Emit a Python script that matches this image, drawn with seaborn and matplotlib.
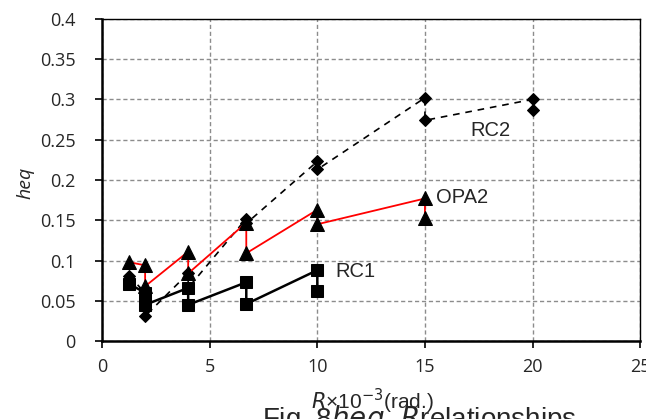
import matplotlib
matplotlib.use("Agg")
import matplotlib.pyplot as plt
import seaborn as sns
import pandas as pd
from matplotlib.ticker import MultipleLocator, FuncFormatter

# drift angle R (x10^-3 rad), each cycle gives two points
rc1_x = [1.25, 2, 2, 4, 4, 6.7, 6.7, 10, 10]
rc1_y = [0.071, 0.060, 0.045, 0.066, 0.045, 0.073, 0.046, 0.088, 0.062]

opa2_x = [1.25, 2, 2, 4, 4, 6.7, 6.7, 10, 10, 15, 15]
opa2_y = [0.098, 0.094, 0.068, 0.111, 0.084, 0.147, 0.109, 0.163, 0.145, 0.177, 0.153]

rc2_x = [1.25, 2, 2, 4, 4, 6.7, 6.7, 10, 10, 15, 15, 20, 20]
rc2_y = [0.081, 0.060, 0.031, 0.084, 0.066, 0.152, 0.146, 0.223, 0.213, 0.302, 0.274, 0.300, 0.287]

labels = ["RC1", "OPA2", "RC2"]
label_pos = [(10.85, 0.086), (15.5, 0.178), (17.1, 0.262)]

sns.set_theme(style="white")
plt.rcParams['font.family'] = ['Liberation Sans', 'DejaVu Sans']

fig = plt.figure(figsize=(6.46, 4.19), dpi=100)
ax = fig.add_axes([0.158, 0.186, 0.833, 0.769])

rc2 = pd.DataFrame({"R": rc2_x, "heq": rc2_y})
opa2 = pd.DataFrame({"R": opa2_x, "heq": opa2_y})
rc1 = pd.DataFrame({"R": rc1_x, "heq": rc1_y})

sns.lineplot(data=rc2, x="R", y="heq", sort=False, estimator=None, ax=ax,
             color="black", lw=1.2, linestyle=(0, (4, 3.5)), marker="D",
             markersize=6.5, markeredgecolor="black", markerfacecolor="black", zorder=3)
sns.lineplot(data=opa2, x="R", y="heq", sort=False, estimator=None, ax=ax,
             color="#ff0000", lw=1.3, marker="^", markersize=10,
             markeredgecolor="black", markerfacecolor="black", zorder=4)
sns.lineplot(data=rc1, x="R", y="heq", sort=False, estimator=None, ax=ax,
             color="black", lw=1.8, marker="s", markersize=9,
             markeredgecolor="black", markerfacecolor="black", zorder=5)

for name, (lx, ly) in zip(labels, label_pos):
    ax.text(lx, ly, name, fontsize=14.5, va="center", ha="left")

ax.set_xlim(0, 25)
ax.set_ylim(0, 0.4)
ax.xaxis.set_major_locator(MultipleLocator(5))
ax.yaxis.set_major_locator(MultipleLocator(0.05))
ax.yaxis.set_major_formatter(FuncFormatter(lambda v, p: "%g" % round(v, 2)))
ax.grid(True, color="#8c8c8c", linestyle=(0, (3, 2)), lw=1.0)
ax.set_axisbelow(True)

for s in ax.spines.values():
    s.set_color("black")
    s.set_linewidth(1.0)
ax.spines["left"].set_linewidth(1.8)
ax.spines["bottom"].set_linewidth(1.8)

ax.tick_params(axis="both", direction="out", length=5, width=1.2, color="black",
               labelsize=13, pad=7, left=True, bottom=True)
ax.tick_params(axis="y", pad=14)
for t in ax.get_xticklabels() + ax.get_yticklabels():
    t.set_fontfamily(["Open Sans", "DejaVu Sans"])

ax.set_xlabel("")
ax.set_ylabel("heq", fontsize=14, fontstyle="italic", fontfamily=["Open Sans", "DejaVu Sans"])
ax.yaxis.set_label_coords(-0.125, 0.49)

fig.text(372 / 646, 1 - 401 / 419, r"$\it{R}$×10$^{-3}$(rad.)", fontsize=15,
         ha="center", va="center")
fig.text(262 / 646, 1 - 403 / 419, r"Fig. 8$\it{heq}$- $\it{R}$relationships",
         fontsize=20, ha="left", va="top")

fig.savefig("out.png", dpi=100)
